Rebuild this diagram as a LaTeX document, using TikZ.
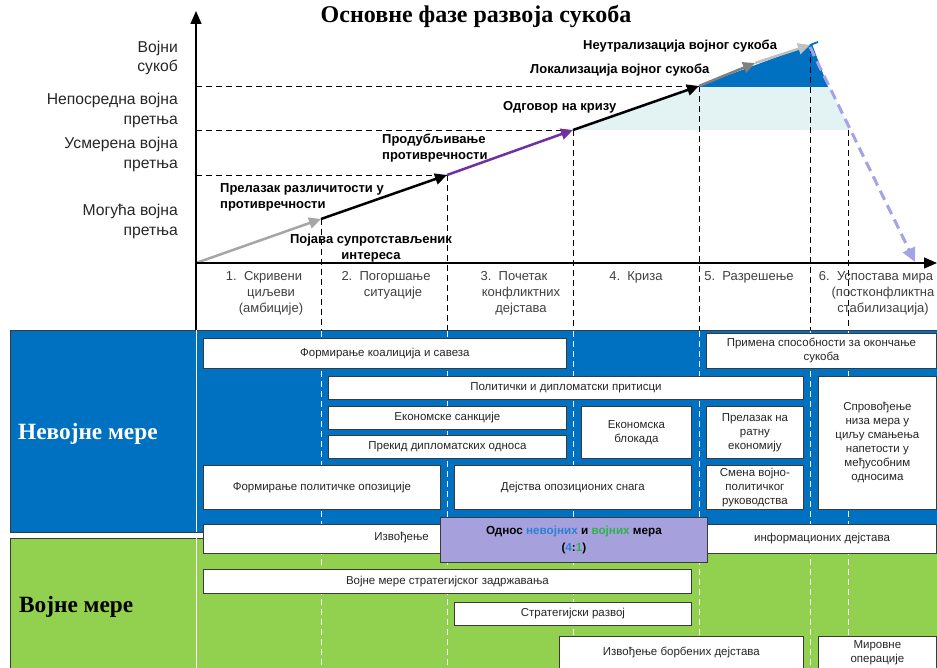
\documentclass[tikz,border=0pt]{standalone}
\usepackage{fontspec}
\setmainfont{Liberation Sans}
\newfontfamily\serifbf{Liberation Serif}[BoldFont={Liberation Serif Bold}]
\usetikzlibrary{arrows.meta}
\definecolor{bandblue}{HTML}{0070C0}
\definecolor{bandgreen}{HTML}{92D050}
\definecolor{lightfill}{HTML}{E3F3F4}
\definecolor{purplebox}{HTML}{A6A1DD}
\definecolor{arrpurple}{HTML}{7030A0}
\definecolor{lavender}{HTML}{A3A3E6}
\definecolor{grayA}{HTML}{A6A6A6}
\definecolor{grayB}{HTML}{808080}
\definecolor{grayC}{HTML}{C0C0C0}
\definecolor{nblue}{HTML}{2E7FD6}
\definecolor{vgreen}{HTML}{2DB34A}
\definecolor{boxline}{HTML}{3A3A3A}
\definecolor{boxtext}{HTML}{262626}
\newcommand\BX[6]{\node[box, minimum width={(#4-#2)*1pt}, minimum height={(#5-#3)*1pt}, anchor=north west] (#1) at (#2,#3) {#6};}
\begin{document}
\begin{tikzpicture}[x=1pt,y=-1pt,
  box/.style={draw=boxline, fill=white, line width=0.8pt, inner sep=1pt, align=center, font=\fontsize{11.5}{14}\selectfont, text=boxtext},
  lbl/.style={font=\bfseries\fontsize{13}{16}\selectfont, inner sep=0pt, align=left, text=black},
  axlbl/.style={font=\fontsize{15.7}{19.5}\selectfont, align=right, inner sep=0pt, anchor=east, text=black!85},
  phase/.style={font=\fontsize{13}{16}\selectfont, align=center, inner sep=0pt, text=black!75},
  guide/.style={dash pattern=on 6pt off 4pt, line width=0.8pt},
  wguide/.style={dash pattern=on 6pt off 4pt, line width=0.9pt, draw=white},
  traj/.style={line width=2.5pt, -{Triangle[length=12pt,width=11pt]}},
  axisline/.style={line width=1.3pt}
]
\useasboundingbox (0,0) rectangle (937,668);
% coordinates
\coordinate (O) at (196,263);
\coordinate (ytop) at (196,11);
\coordinate (xend) at (937,263);
\coordinate (ybot) at (196,330);
\coordinate (p0) at (196,263);
\coordinate (p1) at (321,219);
\coordinate (p2) at (447,175);
\coordinate (p3) at (573,130);
\coordinate (p4) at (699,86);
\coordinate (p5) at (755,63);
\coordinate (p6) at (810,45);
\coordinate (p7) at (818,42);
\coordinate (ds) at (810,47);
\coordinate (de) at (915,262);
\coordinate (h1) at (196,86);
\coordinate (h2) at (196,130);
\coordinate (h3) at (196,175);
\coordinate (v6) at (848,130);
% fills
\fill[lightfill] (p3) -- (p4) -- (829,86) -- (850,130) -- cycle;
\fill[bandblue] (p4) -- (812,44) -- (828,87) -- (699,87) -- cycle;
% guides
\draw[guide] (h1) -- (p4);
\draw[guide] (h2) -- (p3);
\draw[guide] (h3) -- (p2);
\foreach \c/\x in {p1/321,p2/447,p3/573,p4/699,ds/810,v6/848}{
  \draw[guide] (\c) -- (\x,330);
}
% bands
\fill[bandblue, draw=boxline, line width=0.9pt] (10,330) rectangle (937,532);
\fill[bandgreen, draw=boxline, line width=0.9pt] (10,538) rectangle (937,672);
\draw[white, line width=1pt] (196,330) -- (196,532);
\draw[white, line width=1pt] (196,538) -- (196,668);
\foreach \x in {321,447,573,699,810,848}{
  \draw[wguide] (\x,331) -- (\x,531);
  \draw[wguide] (\x,539) -- (\x,668);
}
\node[font=\serifbf\bfseries\fontsize{23.3}{26}\selectfont, text=white, anchor=west, inner sep=0pt] (nev) at (18,434) {Невојне мере};
\node[font=\serifbf\bfseries\fontsize{23.3}{26}\selectfont, text=black, anchor=west, inner sep=0pt] (voj) at (19,607) {Војне мере};
% trajectory
\draw[traj, grayA] (p0) -- (p1);
\draw[traj, black] (p1) -- (p2);
\draw[traj, arrpurple] (p2) -- (p3);
\draw[traj, black] (p3) -- (p4);
\draw[traj, grayB] (p4) -- (p5);
\draw[traj, grayC] (p5) -- (p6);
\draw[bandblue, line width=1.8pt] (p6) -- (p7);
\draw[lavender, line width=3pt, dash pattern=on 10pt off 6pt, -{Triangle[length=14pt,width=13pt]}] (ds) -- (de);
% axes
\draw[axisline, -{Triangle[length=13pt,width=11pt]}] (O) -- (ytop);
\draw[axisline, -{Triangle[length=13pt,width=11pt]}] (O) -- (xend);
\draw[axisline] (O) -- (ybot);
% title
\node[font=\serifbf\bfseries\fontsize{24}{26}\selectfont, inner sep=0pt] (title) at (476,17) {Основне фазе развоја сукоба};
% axis labels
\node[axlbl] (l1) at (178,58) {Војни\\сукоб};
\node[axlbl] (l2) at (178,110.5) {Непосредна војна\\претња};
\node[axlbl] (l3) at (178,154.5) {Усмерена војна\\претња};
\node[axlbl] (l4) at (178,221.5) {Могућа војна\\претња};
% trajectory labels
\node[lbl, anchor=west] (t1) at (583,46) {Неутрализација војног сукоба};
\node[lbl, anchor=west] (t2) at (530,70) {Локализација војног сукоба};
\node[lbl, anchor=west] (t3) at (503,107) {Одговор на кризу};
\node[lbl, anchor=west] (t4) at (382,148) {Продубљивање\\противречности};
\node[lbl, anchor=west] (t5) at (220,197) {Прелазак различитости у\\противречности};
\node[lbl, align=center] (t6) at (371,248) {Појава супротстављеник\\интереса};
% phases
\node[phase] (f1) at (264,293) {1.\ \ Скривени\\\hspace*{14pt}циљеви\\\hspace*{14pt}(амбиције)};
\node[phase] (f2) at (386,285) {2.\ \ Погоршање\\\hspace*{14pt}ситуације};
\node[phase] (f3) at (514,293) {3.\ \ Почетак\\\hspace*{14pt}конфликтних\\\hspace*{14pt}дејстава};
\node[phase] (f4) at (636,277) {4.\ \ Криза};
\node[phase] (f5) at (749,277) {5.\ \ Разрешење};
\node[phase] (f6) at (876,293) {6.\ \ Успостава мира\\\hspace*{14pt}(постконфликтна\\\hspace*{14pt}стабилизација)};
% boxes
\BX{b1}{203}{338}{566}{368}{Формирање коалиција и савеза}
\BX{b2}{706}{333}{936}{368}{Примена способности за окончање\\сукоба}
\BX{b3}{328}{376}{803}{399}{Политички и дипломатски притисци}
\BX{b4}{328}{406}{566}{429}{Економске санкције}
\BX{b5}{328}{435}{566}{458}{Прекид дипломатских односа}
\BX{b6}{581}{406}{691}{458}{Економска\\блокада}
\BX{b7}{706}{406}{803}{458}{Прелазак на\\ратну\\економију}
\BX{b8}{706}{465}{803}{509}{Смена војно-\\политичког\\руководства}
\BX{b9}{818}{376}{936}{509}{Спровођење\\низа мера у\\циљу смањења\\напетости у\\међусобним\\односима}
\BX{b10}{203}{465}{440}{509}{Формирање политичке опозиције}
\BX{b11}{454}{465}{691}{509}{Дејства опозиционих снага}
\BX{b12}{203}{524}{936}{553}{}
\node[font=\fontsize{11.5}{14}\selectfont, text=boxtext, anchor=east, inner sep=0pt] (izv) at (429,538) {Извођење};
\node[font=\fontsize{11.5}{14}\selectfont, text=boxtext, inner sep=0pt] (inf) at (822,539) {информационих дејстава};
\node[box, fill=purplebox, minimum width=267pt, minimum height=45pt, anchor=north west, font=\bfseries\fontsize{11.7}{17}\selectfont, text=black] (b13) at (440,517) {Однос \textcolor{nblue}{невојних} и \textcolor{vgreen}{војних} мера\\(\textcolor{nblue}{4}:\textcolor{vgreen}{1})};
\BX{b14}{203}{569}{691}{593}{Војне мере стратегијског задржавања}
\BX{b15}{454}{602}{691}{625}{Стратегијски развој}
\BX{b16}{559}{636}{803}{669}{Извођење борбених дејстава}
\BX{b17}{818}{636}{936}{669}{Мировне\\операције}
\end{tikzpicture}
\end{document}
